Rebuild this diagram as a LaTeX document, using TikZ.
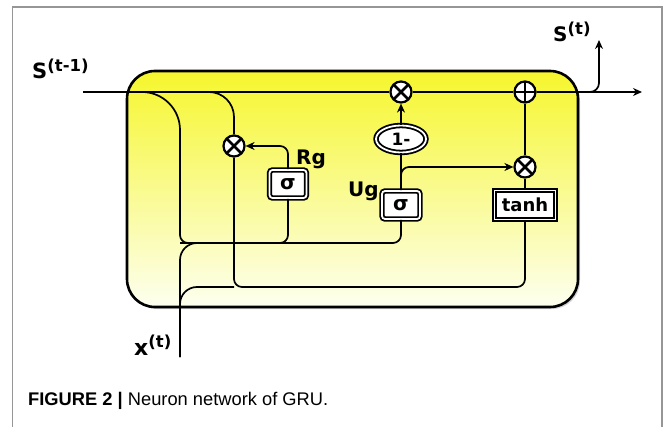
\documentclass[tikz,border=0pt]{standalone}
\usepackage{fontspec}
\usepackage{tikz}
\usetikzlibrary{shapes,arrows.meta,positioning,shadows}
\newfontfamily\lblfont{DejaVu Sans}
\newfontfamily\capfont{Liberation Sans}
\definecolor{gruyellow}{RGB}{246,246,45}
\definecolor{grulight}{RGB}{253,255,240}
\definecolor{gruframe}{RGB}{150,150,150}
\tikzstyle{wire} = [line width=1.7pt, black]
\tikzstyle{arrow} = [-{Stealth[length=9pt,width=8pt]}, line width=1.7pt, black]
\newcommand{\lblsup}[2]{#1\raisebox{7.5pt}{\fontsize{16.5}{16.5}\selectfont #2}}

\begin{document}
\begin{tikzpicture}[x=1pt, y=-1pt,
  cellbox/.style={rounded corners=28pt, line width=2.6pt, top color=gruyellow, bottom color=grulight,
    drop shadow={shadow xshift=2pt, shadow yshift=-2pt, opacity=0.35}},
  mulop/.style={circle, draw, line width=2.2pt, fill=white, minimum size=21pt, inner sep=0pt,
    path picture={\draw[line width=2.6pt] (path picture bounding box.north west) -- (path picture bounding box.south east)
      (path picture bounding box.south west) -- (path picture bounding box.north east);}},
  addop/.style={circle, draw, line width=2.2pt, fill=white, minimum size=21pt, inner sep=0pt,
    path picture={\draw[line width=2.2pt] (path picture bounding box.north) -- (path picture bounding box.south)
      (path picture bounding box.west) -- (path picture bounding box.east);}},
  gatebox/.style={rectangle, rounded corners=3pt, draw, line width=1.8pt, double=white, double distance=1.8pt,
    fill=white, minimum width=38pt, minimum height=28pt, inner sep=0pt, font=\lblfont\bfseries\fontsize{20}{20}\selectfont},
  tanhbox/.style={gatebox, sharp corners, minimum width=61pt, minimum height=29pt, font=\lblfont\bfseries\fontsize{18}{18}\selectfont},
  onebox/.style={ellipse, draw, line width=1.8pt, double=white, double distance=1.8pt, fill=white,
    minimum width=50pt, minimum height=27pt, inner sep=0pt, font=\lblfont\bfseries\fontsize{17}{17}\selectfont},
  lbl/.style={anchor=base west, inner sep=0pt, font=\lblfont\bfseries\fontsize{20}{20}\selectfont}]

\useasboundingbox (0,0) rectangle (663,427);
\draw[gruframe, line width=1.5pt] (12.5,427) -- (12.5,7) -- (662,7) -- (662,427);

% cell
\draw[cellbox] (127,71) rectangle (578,307);

\coordinate (hin) at (83,92);
\coordinate (hout) at (642,92);
\coordinate (hup) at (599,40);
\coordinate (xin) at (180,357);
\coordinate (gmid) at (180,200);
\coordinate (gbus) at (180,243);
\coordinate (gjoin) at (215,243);
\coordinate (cbus) at (234,287);

\node[mulop] (mz) at (401,92) {};
\node[addop] (ad) at (525,92) {};
\node[onebox] (om) at (401,139) {1-};
\node[gatebox] (ug) at (401,205) {σ};
\node[tanhbox] (tanh) at (525,205) {tanh};
\node[mulop] (mc) at (525,167) {};
\node[mulop] (mr) at (234,146) {};
\node[gatebox, minimum width=37pt] (rg) at (288,184) {σ};

\node[lbl] (rglbl) at (296,165) {Rg};
\node[lbl] (uglbl) at (348,197) {Ug};
\node[lbl, font=\lblfont\bfseries\fontsize{21}{21}\selectfont] (hprev) at (32,79) {\lblsup{S}{(t-1)}};
\node[lbl] (hnext) at (553,42) {\lblsup{S}{(t)}};
\node[lbl, font=\lblfont\bfseries\fontsize{22}{22}\selectfont] (xlbl) at (134,355) {\lblsup{x}{(t)}};
\node[anchor=base west, inner sep=0pt, font=\capfont\fontsize{18.3}{18.3}\selectfont] (cap) at (28,405)
  {\textbf{FIGURE 2 |} Neuron network of GRU.};

% state line
\draw[wire] (hin) -- (mz);
\draw[wire] (mz) -- (ad);
\draw[arrow] (ad) -- (hout);
\draw[arrow, rounded corners=9pt] (ad.east) -| (hup);

% gate inputs
\draw[wire, rounded corners=38pt] (hin) -| (gmid);
\draw[wire, rounded corners=8pt] (gmid) -- (gbus) -| (ug.south);
\draw[wire, rounded corners=17pt] (xin) |- (gjoin);
\draw[wire, rounded corners=8pt] (rg.south) |- (gbus);
\draw[arrow, rounded corners=8pt] (rg.north) |- (mr.east);

% candidate
\draw[wire, rounded corners=25pt] (hin) -| (mr.north);
\draw[wire, rounded corners=8pt] (mr.south) -- (cbus) -| (tanh.south);
\draw[wire, rounded corners=17pt] (xin) |- (cbus);
\draw[wire] (tanh) -- (mc);
\draw[wire] (mc) -- (ad);

% update
\draw[wire] (ug) -- (om);
\draw[arrow] (om) -- (mz);
\draw[arrow, rounded corners=8pt] (ug.north) |- (mc.west);
\end{tikzpicture}
\end{document}
